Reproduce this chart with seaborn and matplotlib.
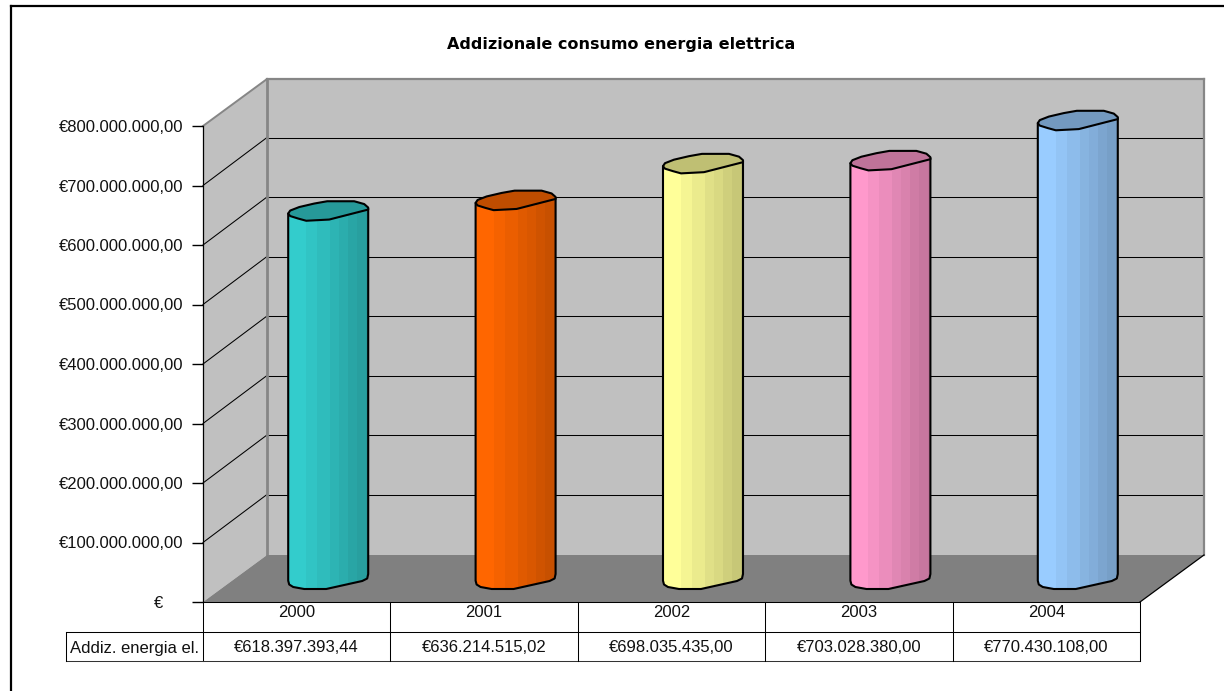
import numpy as np
import pandas as pd
import seaborn as sns
import matplotlib
matplotlib.use("Agg")
import matplotlib.pyplot as plt
from matplotlib.patches import Polygon, PathPatch, Rectangle
from matplotlib.path import Path
from matplotlib.ticker import FuncFormatter
from matplotlib.transforms import Affine2D, IdentityTransform
from matplotlib.lines import Line2D

years = ["2000", "2001", "2002", "2003", "2004"]
amounts = [618397393.44, 636214515.02, 698035435.00, 703028380.00, 770430108.00]
colours = ["#33CCCC", "#FF6600", "#FFFF99", "#FF99CC", "#99CCFF"]
title_text = "Addizionale consumo energia elettrica"
row_label = "Addiz. energia el."

W, H = 1224, 691
DEPTH_X, DEPTH_Y = 64, 47
FONT = "Liberation Sans"


def euro(v):
    """Italian currency format."""
    if v == 0:
        return "€"
    s = f"{v:,.2f}".replace(",", "#").replace(".", ",").replace("#", ".")
    return "€" + s


def shade(colour, f):
    r, g, b = matplotlib.colors.to_rgb(colour)
    return (r * f, g * f, b * f)


sns.set_theme(style="white", rc={"font.family": [FONT, "DejaVu Sans"]})
plt.rcParams["font.family"] = [FONT, "DejaVu Sans"]

fig = plt.figure(figsize=(W / 100, H / 100), dpi=100, facecolor="white")
ax = fig.add_axes([203 / W, (H - 602) / H, 937 / W, 476 / H])
ax.patch.set_visible(False)

df = pd.DataFrame({"Anno": years, "Importo": amounts})
bar_w = 80 / (937 / 5)
sns.barplot(data=df, x="Anno", y="Importo", hue="Anno", palette=colours,
            width=bar_w, dodge=False, legend=False, ax=ax, linewidth=0, zorder=5)
ax.set_xlim(-0.5, 4.5)
ax.set_ylim(0, 800e6)
ax.set_xlabel("")
ax.set_ylabel("")
for s in ax.spines.values():
    s.set_visible(False)

yticks = np.arange(0, 800e6 + 1, 100e6)
ax.set_yticks(yticks)
ax.yaxis.set_major_formatter(FuncFormatter(lambda v, _: euro(v)))
ax.tick_params(axis="y", length=8, width=1, color="black", pad=6,
               labelsize=12, labelcolor="#111111", left=True)
ax.tick_params(axis="x", length=0, pad=2.5, labelsize=12, labelcolor="#111111")
fig.canvas.draw()

# The zero label sits further left than the others
ax.get_yticklabels()[0].set_transform(
    ax.get_yticklabels()[0].get_transform() + Affine2D().translate(-20, 0))


def front(i_x, value):
    return ax.transData.transform((i_x, value))


# Room: back wall, side wall and floor
GREY_WALL = "#C0C0C0"
GREY_EDGE = "#868686"
x0, x1 = front(-0.5, 0)[0], front(4.5, 0)[0]
y0, y1 = front(-0.5, 0)[1], front(-0.5, 800e6)[1]
dx, dy = DEPTH_X, DEPTH_Y


def add_poly(points, **kw):
    p = Polygon(points, closed=True, transform=IdentityTransform(),
                clip_on=False, **kw)
    fig.add_artist(p)
    return p


back = [(x0 + dx, y0 + dy), (x1 + dx, y0 + dy), (x1 + dx, y1 + dy), (x0 + dx, y1 + dy)]
side = [(x0, y0), (x0 + dx, y0 + dy), (x0 + dx, y1 + dy), (x0, y1)]
floor = [(x0, y0), (x1, y0), (x1 + dx, y0 + dy), (x0 + dx, y0 + dy)]
add_poly(back, facecolor=GREY_WALL, edgecolor="none", zorder=-5)
add_poly(side, facecolor=GREY_WALL, edgecolor="none", zorder=-5)


def add_line(xs, ys, color="black", lw=0.75, z=-3):
    fig.add_artist(Line2D(xs, ys, color=color, lw=lw, zorder=z,
                          transform=IdentityTransform(), solid_capstyle="projecting"))


# Gridlines run across the side wall and along the back wall
for v in yticks[1:-1]:
    yv = front(-0.5, v)[1]
    add_line([x0, x0 + dx], [yv, yv + dy + 1])
    add_line([x0 + dx, x1 + dx], [yv + dy + 1, yv + dy + 1])

add_line([x0 + dx, x0 + dx], [y0 + dy, y1 + dy], color=GREY_EDGE, lw=2.0)
add_line([x1 + dx, x1 + dx], [y0 + dy, y1 + dy], color=GREY_EDGE, lw=1.6)
add_line([x0, x0 + dx], [y1, y1 + dy], color=GREY_EDGE, lw=1.4)
add_line([x0 + dx, x1 + dx], [y1 + dy, y1 + dy], color=GREY_EDGE, lw=1.6)
add_poly(floor, facecolor="#808080", edgecolor="none", zorder=-2)
add_line([x1, x1 + dx], [y0, y0 + dy], lw=0.9, z=-1)
add_line([x0, x0], [y0, y1], lw=0.9, z=-1)

# Lumpy outlines of the cylinder ends, in pixels around the end's centre (y downward)
upper = [(-40, 3), (-38, 0), (-29, -3.5), (-14, -7), (-1, -9.3), (26, -9.3),
         (36, -6.5), (40, -3), (40, -1), (1, 9), (-22, 10.2), (-30, 8), (-38, 5.5)]
lower = [(40, -4.5), (39, 0), (34, 2.5), (-2, 10.5), (-24, 10.5), (-35, 8.5), (-39, 6), (-40, 2.2)]
band_edges = [0, 18, 29, 42, 51, 60, 69, 78, 80]
band_shades = [1.0, 0.96, 0.92, 0.88, 0.85, 0.81, 0.78, 0.75]

# Cylinders stand halfway into the room
for bar, colour in zip(ax.patches, colours):
    bar.set_transform(ax.transData + Affine2D().translate(dx / 2, dy / 2))
    ext = bar.get_window_extent()
    cx = (ext.x0 + ext.x1) / 2 - 0.5
    top_y, bot_y = ext.y1, ext.y0

    # body outline: top corners from left to right, then the bottom curve
    body = [(cx - 40, top_y - 3), (cx + 40, top_y + 2)]
    body += [(cx + a, bot_y - b) for a, b in lower]
    body = Path(body + [body[0]], closed=True)
    clip = PathPatch(body, transform=IdentityTransform())
    bar.set_facecolor(colour)
    bar.set_clip_path(clip)
    for k, sh in enumerate(band_shades):
        left = cx - 40 + band_edges[k]
        width = band_edges[k + 1] - band_edges[k]
        r = Rectangle((left, bot_y - 15), width + 0.3, top_y - bot_y + 20,
                      facecolor=shade(colour, sh), edgecolor="none",
                      transform=IdentityTransform(), zorder=6)
        r.set_clip_path(clip)
        fig.add_artist(r)
    fig.add_artist(PathPatch(body, facecolor="none", edgecolor="black", lw=1.5, zorder=7,
                             transform=IdentityTransform(), joinstyle="round"))
    lid = [(cx + a, top_y - b) for a, b in upper]
    add_poly(lid, facecolor=shade(colour, 0.75), edgecolor="black", lw=1.5, zorder=8,
             joinstyle="round")

# Data table below the plot
y_mid = H - 632
y_bot = H - 661
x_label = 66
add_line([x0, x0], [y0, y_bot], z=2)
add_line([x0, x1], [y0, y0], z=2)
add_line([x_label, x1], [y_mid, y_mid], z=2)
add_line([x_label, x1], [y_bot, y_bot], color="#333333", z=2)
add_line([x_label, x_label], [y_mid, y_bot], z=2)
for i in range(1, 6):
    xb = front(i - 0.5, 0)[0]
    add_line([xb, xb], [y0, y_bot], z=2)
fig.text(135 / W, (H - 649) / H, row_label, ha="center", va="center",
         fontsize=12, color="#111111", family=FONT)
for i, v in enumerate(amounts):
    xc = front(i, 0)[0]
    fig.text(xc / W, (H - 647) / H, euro(v), ha="center", va="center",
             fontsize=12, color="#111111", family=FONT)

fig.text(621.5 / W, (H - 44) / H, title_text, ha="center", va="center",
         fontsize=11.5, fontweight="bold", color="black", family="DejaVu Sans")

# Outer chart border: left and top sides only reach the picture's edge
add_line([10.5, 10.5], [0, H - 6], lw=1.6, z=1)
add_line([10.5, 1223], [H - 6, H - 6], lw=1.6, z=1)

fig.savefig("out.png", dpi=100, facecolor="white")
